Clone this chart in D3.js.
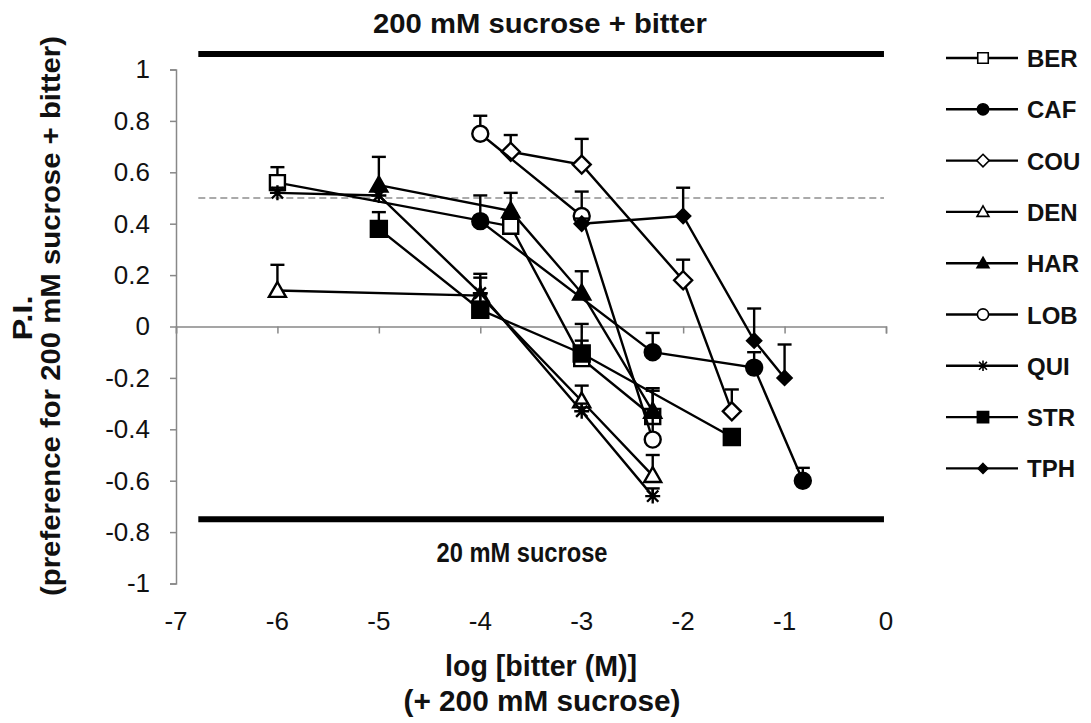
<!DOCTYPE html>
<html><head><meta charset="utf-8">
<script src="https://cdn.jsdelivr.net/npm/d3@7"></script>
<style>body{margin:0;background:#fff}svg{display:block}text{font-family:"Liberation Sans",Arial,sans-serif}</style>
</head><body><svg id="c" width="1091" height="723"></svg>
<script>
// ---- data ----
const seriesNames = ["BER","CAF","COU","DEN","HAR","LOB","QUI","STR","TPH"];
const BER_x = [-6, -3.7, -3, -2.3], BER_y = [0.56, 0.39, -0.125, -0.35], BER_e = [0.06, 0.05, 0.07, 0.11];
const CAF_x = [-4, -2.3, -1.3, -0.82], CAF_y = [0.41, -0.10, -0.16, -0.60], CAF_e = [0.10, 0.075, 0.06, 0.05];
const COU_x = [-3.7, -3, -2, -1.52], COU_y = [0.68, 0.63, 0.18, -0.33], COU_e = [0.065, 0.10, 0.08, 0.085];
const DEN_x = [-6, -4, -3, -2.3], DEN_y = [0.14, 0.12, -0.29, -0.58], DEN_e = [0.10, 0.07, 0.06, 0.08];
const HAR_x = [-5, -3.7, -3, -2.3], HAR_y = [0.55, 0.45, 0.13, -0.33], HAR_e = [0.11, 0.07, 0.085, 0.08];
const LOB_x = [-4, -3, -2.3], LOB_y = [0.75, 0.43, -0.44], LOB_e = [0.07, 0.095, 0.1];
const QUI_x = [-6, -5, -4, -3, -2.3], QUI_y = [0.52, 0.51, 0.13, -0.33, -0.66], QUI_e = [0.02, 0.02, 0.075, 0.03, 0.03];
const STR_x = [-5, -4, -3, -1.52], STR_y = [0.38, 0.065, -0.105, -0.43], STR_e = [0.065, 0.06, 0.115, 0.03];
const TPH_x = [-3, -2, -1.3, -1], TPH_y = [0.40, 0.43, -0.055, -0.20], TPH_e = [0.02, 0.11, 0.125, 0.13];
const xTicks = [-7, -6, -5, -4, -3, -2, -1, 0];
const xTickLabels = ["-7","-6","-5","-4","-3","-2","-1","0"];
const yTicks = [1, 0.8, 0.6, 0.4, 0.2, 0, -0.2, -0.4, -0.6, -0.8, -1];
const yTickLabels = ["1","0.8","0.6","0.4","0.2","0","-0.2","-0.4","-0.6","-0.8","-1"];
const refTop = 1.06, refBottom = -0.75, refDash = 0.5;

const markerShape = {BER:"square",CAF:"circle",COU:"diamond",DEN:"triangle",HAR:"triangle",LOB:"circle",QUI:"star",STR:"square",TPH:"diamond"};
const markerFill = {BER:"#fff",CAF:"#000",COU:"#fff",DEN:"#fff",HAR:"#000",LOB:"#fff",QUI:"none",STR:"#000",TPH:"#000"};
const markerSize = {BER:7.5,CAF:8,COU:9,DEN:8.5,HAR:8.5,LOB:8,QUI:7.5,STR:8,TPH:7};

const data = {BER:[BER_x,BER_y,BER_e],CAF:[CAF_x,CAF_y,CAF_e],COU:[COU_x,COU_y,COU_e],DEN:[DEN_x,DEN_y,DEN_e],
  HAR:[HAR_x,HAR_y,HAR_e],LOB:[LOB_x,LOB_y,LOB_e],QUI:[QUI_x,QUI_y,QUI_e],STR:[STR_x,STR_y,STR_e],TPH:[TPH_x,TPH_y,TPH_e]};

const svg = d3.select("#c");
const x = d3.scaleLinear().domain([-7,0]).range([176,886]);
const y = d3.scaleLinear().domain([-1,1]).range([583.5,69.5]);

function markerPath(shape, s){
  if(shape==="square") return `M${-s},${-s}H${s}V${s}H${-s}Z`;
  if(shape==="circle") return d3.symbol(d3.symbolCircle, Math.PI*s*s)();
  if(shape==="diamond") return `M0,${-s}L${s},0L0,${s}L${-s},0Z`;
  if(shape==="triangle") return `M0,${-s}L${s},${s*0.75}L${-s},${s*0.75}Z`;
  if(shape==="star"){ const a=s; return `M${-a},0H${a}M0,${-a}V${a}M${-a*0.75},${-a*0.75}L${a*0.75},${a*0.75}M${-a*0.75},${a*0.75}L${a*0.75},${-a*0.75}`; }
}

function label(tx, ty, txt, size, len, rot){
  const t = svg.append("text").attr("text-anchor","middle").attr("font-size",size)
    .attr("font-weight","bold").attr("fill","#111")
    .attr("textLength",len).attr("lengthAdjust","spacingAndGlyphs").text(txt);
  if(rot) t.attr("transform",`translate(${tx},${ty}) rotate(-90)`);
  else t.attr("x",tx).attr("y",ty);
  return t;
}

// axes
const yAxis = d3.axisLeft(y).tickValues(yTicks).tickSize(6).tickPadding(20)
  .tickFormat((d,i)=>yTickLabels[i]);
const gy = svg.append("g").attr("transform",`translate(${x(-7)},0)`).call(yAxis);
gy.select(".domain").attr("stroke","#888").attr("stroke-width",1.5);
gy.selectAll(".tick line").attr("stroke","#888").attr("stroke-width",1.5);
gy.selectAll(".tick text").attr("font-size",26).attr("fill","#111").attr("font-family","Liberation Sans, Arial");

const xAxis = d3.axisBottom(x).tickValues(xTicks).tickSize(7).tickFormat("");
const gx = svg.append("g").attr("transform",`translate(0,${y(0)})`).call(xAxis);
gx.select(".domain").attr("stroke","#888").attr("stroke-width",1.5);
gx.selectAll(".tick line").attr("stroke","#888").attr("stroke-width",1.5);

svg.append("g").selectAll("text").data(xTicks).join("text")
  .attr("x",d=>x(d)).attr("y",630).attr("text-anchor","middle")
  .attr("font-size",26).attr("fill","#111").text((d,i)=>xTickLabels[i]);

// reference lines
svg.append("line").attr("x1",x(-6.78)).attr("x2",x(-0.02)).attr("y1",y(refDash)).attr("y2",y(refDash))
  .attr("stroke","#aaa").attr("stroke-width",2).attr("stroke-dasharray","7,4");
svg.append("line").attr("x1",x(-6.78)).attr("x2",x(-0.02)).attr("y1",y(refTop)).attr("y2",y(refTop))
  .attr("stroke","#000").attr("stroke-width",6);
svg.append("line").attr("x1",x(-6.78)).attr("x2",x(-0.02)).attr("y1",y(refBottom)).attr("y2",y(refBottom))
  .attr("stroke","#000").attr("stroke-width",6);

label(540, 33, "200 mM sucrose + bitter", 27, 334);
label(522, 562, "20 mM sucrose", 27, 171);

// axis titles
label(541, 676, "log [bitter (M)]", 29, 192);
label(542, 711, "(+ 200 mM sucrose)", 29, 277);
label(32, 318, "P.I.", 28, 45, true);
label(60, 316, "(preference for 200 mM sucrose + bitter)", 27, 560, true);

// series
const line = d3.line().x(d=>x(d[0])).y(d=>y(d[1]));
const plot = svg.append("g");
seriesNames.forEach(name=>{
  const [xs,ys,es] = data[name];
  const pts = xs.map((v,i)=>[v,ys[i],es[i]]);
  const g = plot.append("g");
  g.append("path").attr("d",line(pts)).attr("fill","none").attr("stroke","#000").attr("stroke-width",2.4);
  g.selectAll("line.err").data(pts).join("line").attr("class","err")
    .attr("x1",d=>x(d[0])).attr("x2",d=>x(d[0])).attr("y1",d=>y(d[1])).attr("y2",d=>y(d[1]+d[2]))
    .attr("stroke","#000").attr("stroke-width",2.4);
  g.selectAll("line.cap").data(pts).join("line").attr("class","cap")
    .attr("x1",d=>x(d[0])-7).attr("x2",d=>x(d[0])+7).attr("y1",d=>y(d[1]+d[2])).attr("y2",d=>y(d[1]+d[2]))
    .attr("stroke","#000").attr("stroke-width",2.4);
  g.selectAll("path.m").data(pts).join("path").attr("class","m")
    .attr("transform",d=>`translate(${x(d[0])},${y(d[1])})`)
    .attr("d",markerPath(markerShape[name],markerSize[name]))
    .attr("fill",markerFill[name]).attr("stroke","#000").attr("stroke-width",2.4);
});

// legend
const leg = svg.append("g");
seriesNames.forEach((name,i)=>{
  const ly = 58 + i*51.3;
  leg.append("line").attr("x1",946).attr("x2",1018).attr("y1",ly).attr("y2",ly).attr("stroke","#000").attr("stroke-width",2.4);
  leg.append("path").attr("transform",`translate(983,${ly})`)
    .attr("d",markerPath(markerShape[name],markerSize[name]*0.7))
    .attr("fill",markerFill[name]).attr("stroke","#000").attr("stroke-width",1.6);
  leg.append("text").attr("x",1027).attr("y",ly+9).attr("font-size",24).attr("font-weight","bold").attr("fill","#111").text(name);
});
</script></body></html>
